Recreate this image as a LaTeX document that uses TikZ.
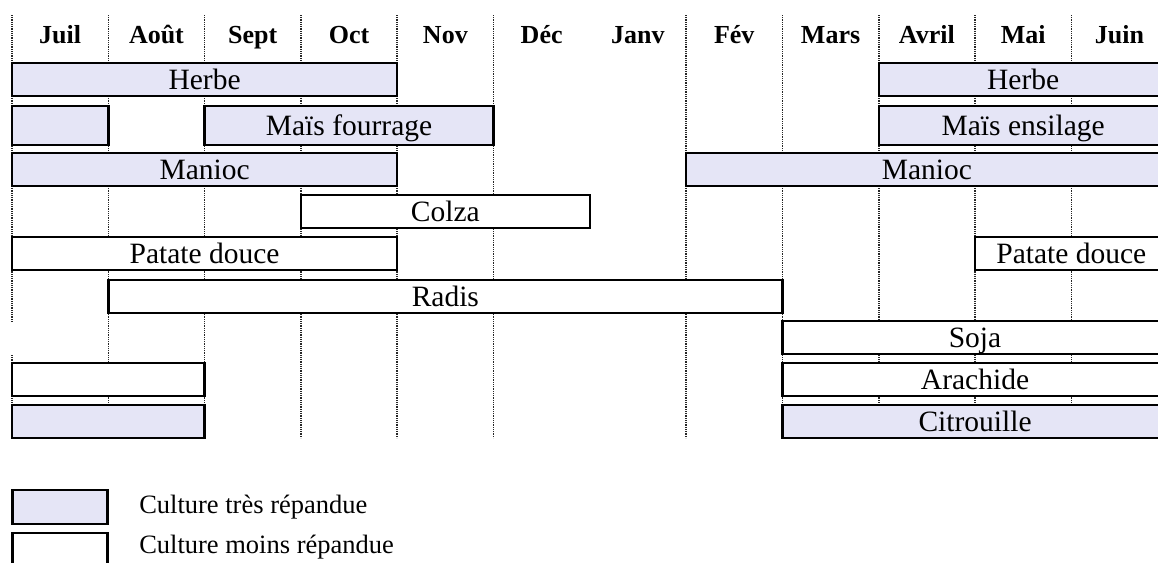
\documentclass[tikz,border=0pt]{standalone}
\usepackage{fontspec}
\setmainfont{Liberation Serif}
\usetikzlibrary{positioning}
\definecolor{lavande}{RGB}{229,229,246}

\begin{document}
\begin{tikzpicture}[x=48.15pt, y=-0.5pt,
    month/.style={font=\fontsize{13}{14}\selectfont\bfseries, inner sep=0pt, text height=0.68em, text depth=0.2em, yshift=-1.5pt},
    crop/.style={draw, line width=1.2pt},
    wide/.style={crop, fill=lavande},
    rare/.style={crop, fill=white},
    croplabel/.style={font=\fontsize{14.75}{16}\selectfont, inner sep=0pt, text height=0.68em, text depth=0.2em, yshift=-2.5pt},
    keytext/.style={font=\fontsize{13.25}{15}\selectfont, inner sep=0pt},
    monthline/.style={black!85, line width=0.8pt, dash pattern=on 0.5pt off 0.4pt}]
        % Frame
        \useasboundingbox (-0.1246,0) rectangle (11.9,562);
        \clip (-0.1246,0) rectangle (11.9,562);
        
        % Month columns
        \foreach \m [count=\i from 0] in {Juil,Août,Sept,Oct,Nov,Déc,Janv,Fév,Mars,Avril,Mai,Juin} {
            \node[month] (m\i) at (\i+0.5,36) {\m};
        }
        \draw[monthline] (0,15) -- (0,322);
        \draw[monthline] (0,355) -- (0,438);
        \foreach \k in {1,2,3,4,5,7,8,9,10,11} {
            \draw[monthline] (\k,15) -- (\k,438);
        }
        
        % Herbe
        \draw[wide] (0,63) rectangle (4,96);
        \node[croplabel] (herbeA) at (2,80) {Herbe};
        \draw[wide] (9,63) rectangle (12.2,96);
        \node[croplabel] (herbeB) at (10.5,80) {Herbe};
        
        % Mais
        \draw[wide] (0,106) rectangle (1,145);
        \draw[wide] (2,106) rectangle (5,145);
        \node[croplabel] (fourrage) at (3.5,125.5) {Maïs fourrage};
        \draw[wide] (9,106) rectangle (12.2,145);
        \node[croplabel] (ensilage) at (10.5,125.5) {Maïs ensilage};
        
        % Manioc
        \draw[wide] (0,153) rectangle (4,186);
        \node[croplabel] (maniocA) at (2,170) {Manioc};
        \draw[wide] (7,153) rectangle (12.2,186);
        \node[croplabel] (maniocB) at (9.5,170) {Manioc};
        
        % Colza
        \draw[rare] (3,195) rectangle (6,228);
        \node[croplabel] (colza) at (4.5,212) {Colza};
        
        % Patate douce
        \draw[rare] (0,237) rectangle (4,270);
        \node[croplabel] (patateA) at (2,254) {Patate douce};
        \draw[rare] (10,237) rectangle (12.2,270);
        \node[croplabel] (patateB) at (11,254) {Patate douce};
        
        % Radis
        \draw[rare] (1,280) rectangle (8,313);
        \node[croplabel] (radis) at (4.5,297) {Radis};
        
        % Soja, Arachide, Citrouille
        \draw[rare] (8,321) rectangle (12.2,354);
        \node[croplabel] (soja) at (10,338) {Soja};
        \draw[rare] (0,363) rectangle (2,396);
        \draw[rare] (8,363) rectangle (12.2,396);
        \node[croplabel] (arachide) at (10,380) {Arachide};
        \draw[wide] (0,405) rectangle (2,438);
        \draw[wide] (8,405) rectangle (12.2,438);
        \node[croplabel] (citrouille) at (10,422) {Citrouille};
        
        % Legend
        \node[wide, minimum width=47.5pt, minimum height=17pt, inner sep=0pt] (keyWide) at (0.5,507) {};
        \node[keytext, right=15pt of keyWide] (txtWide) {Culture très répandue};
        \node[rare, minimum width=47.5pt, minimum height=16pt, inner sep=0pt] (keyRare) at (0.5,549) {};
        \node[keytext, right=15pt of keyRare, yshift=1pt] (txtRare) {Culture moins répandue};
    \end{tikzpicture}
\end{document}
